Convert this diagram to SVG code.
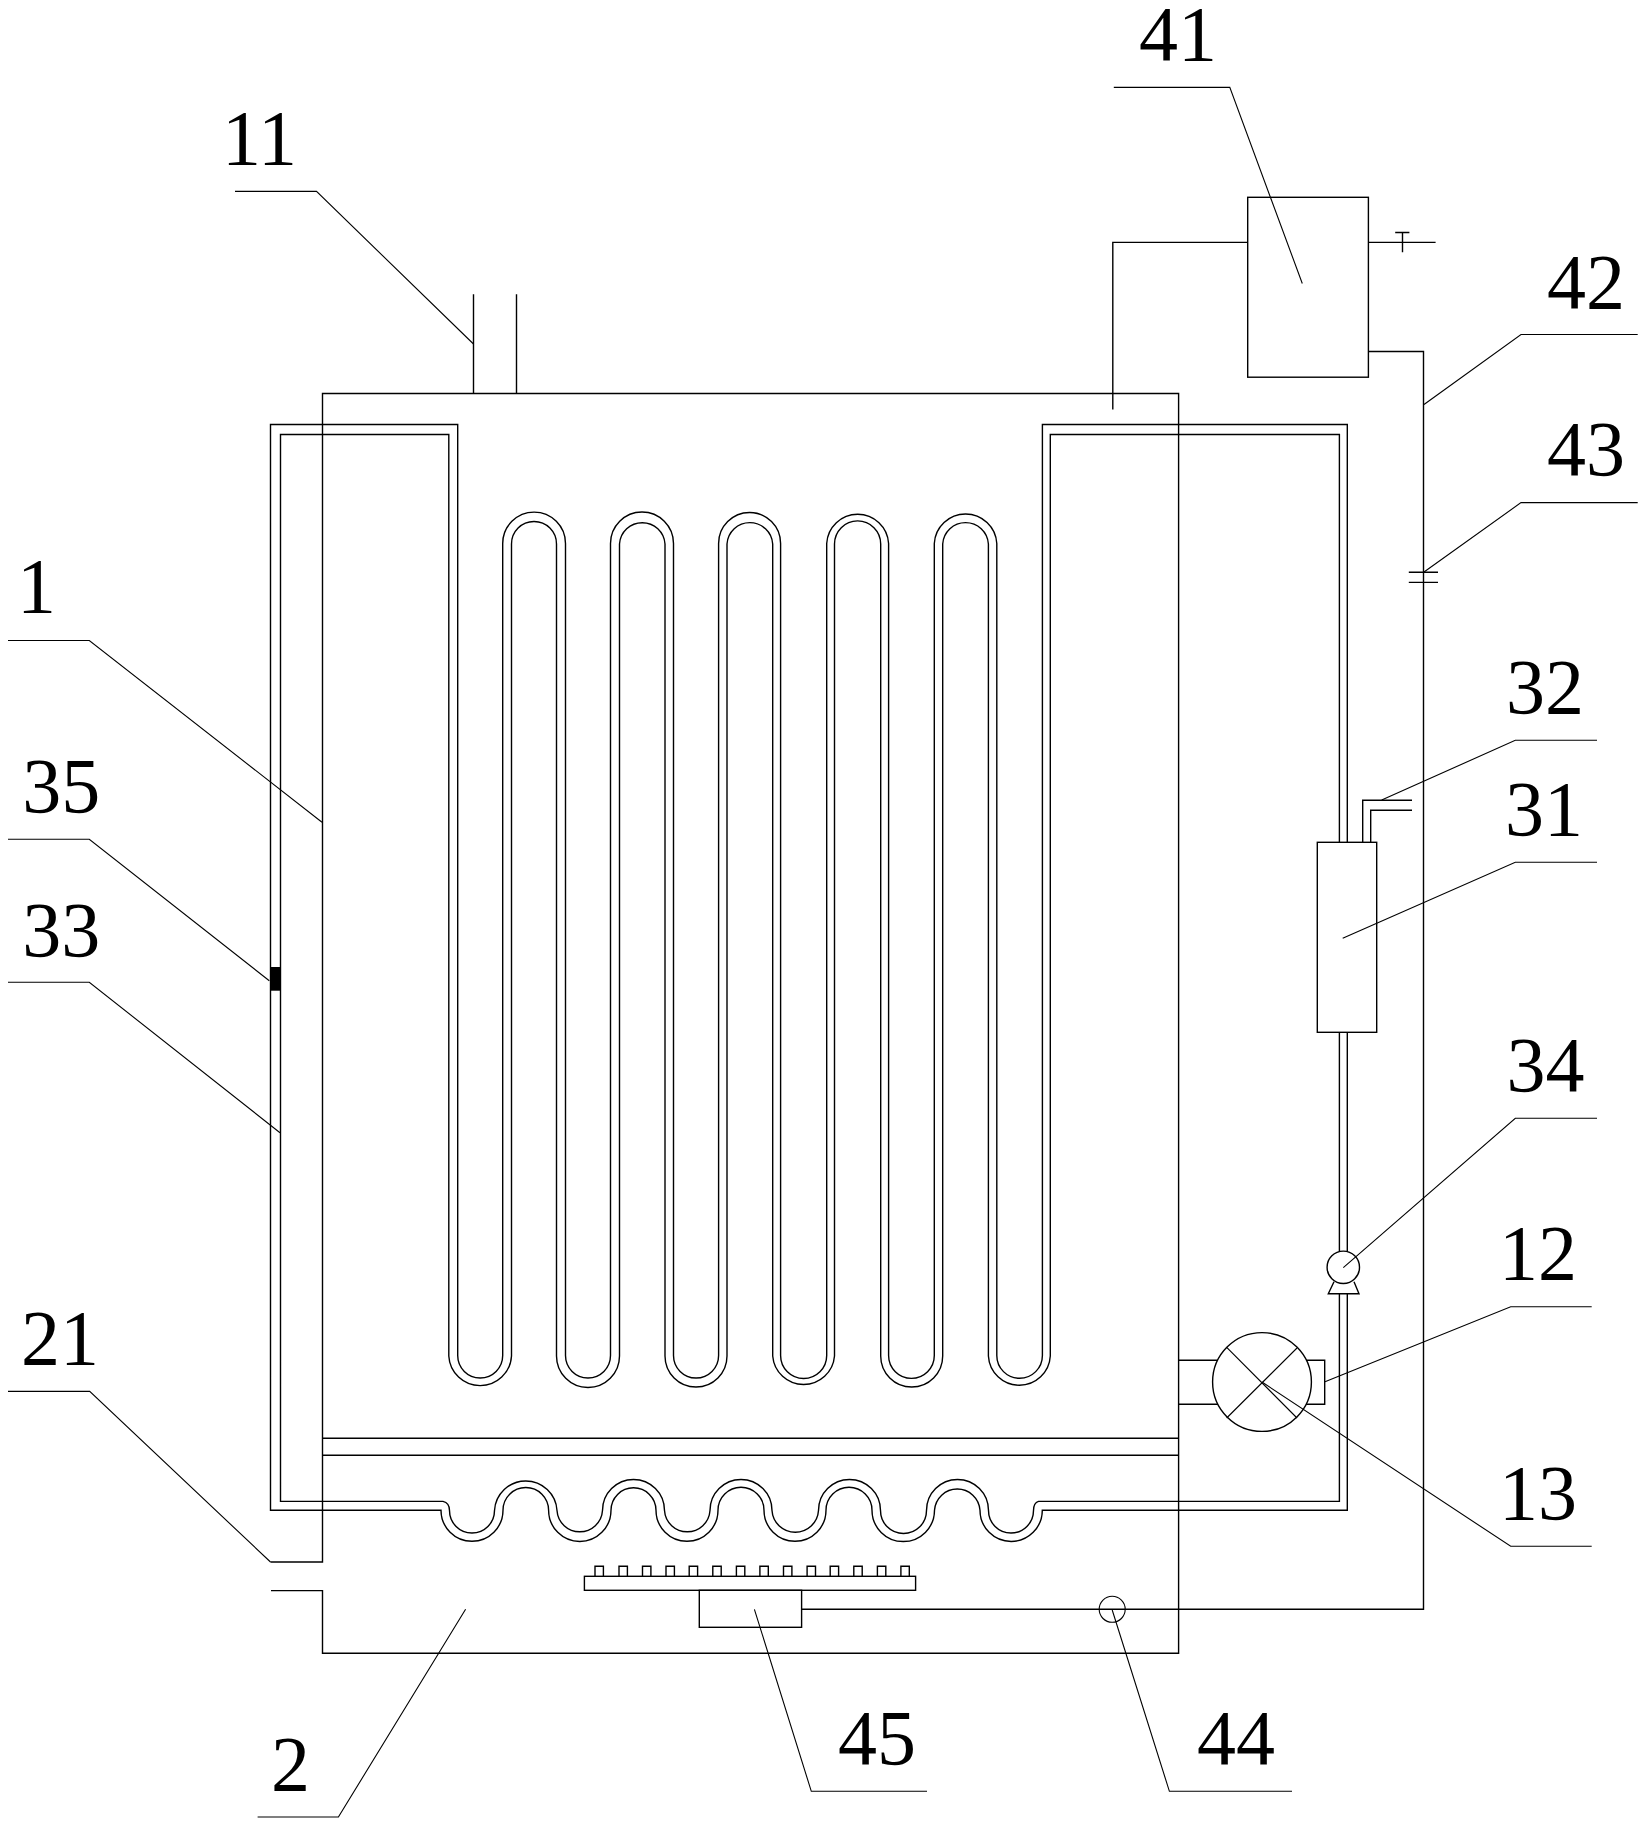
<svg xmlns="http://www.w3.org/2000/svg" width="1646" height="1825" viewBox="0 0 1646 1825">
<style>
.s{fill:none;stroke:#000;stroke-width:1.4}
.w{fill:#fff;stroke:#000;stroke-width:1.4}
.l{fill:none;stroke:#000;stroke-width:1.1}
text{font-family:"Liberation Serif","Times New Roman",serif;font-size:78px;fill:#000;text-anchor:middle}
</style>
<rect width="1646" height="1825" fill="#fff"/>
<g id="coil">
<path class="s" d="M441 1510.3H270.5V424.5H457.7V1355.5A22.5 22.5 0 0 0 502.7 1355.5V543.5A31.4 31.4 0 0 1 565.5 543.5V1355.5A22.5 22.5 0 0 0 610.5 1355.5V543.5A31.5 31.5 0 0 1 673.5 543.5V1355.5A22.5 22.5 0 0 0 718.6 1355.5V543.5A31 31 0 0 1 780.6 543.5V1355.5A23 23 0 0 0 826.7 1355.5V543.5A31 31 0 0 1 888.6 543.5V1355.5A22.8 22.8 0 0 0 934.3 1355.5V543.5A31.3 31.3 0 0 1 996.8 543.5V1355.5A22.8 22.8 0 0 0 1042.4 1355.5V424.5H1347.3V1510.3H1042.3A31 31 0 0 1 980 1510.3A22.8 22.8 0 0 0 934.5 1510.3A31 31 0 0 1 872 1510.3A23 23 0 0 0 826 1510.3A31 31 0 0 1 764 1510.3A23 23 0 0 0 718 1510.3A31 31 0 0 1 656 1510.3A22.5 22.5 0 0 0 611 1510.3A31 31 0 0 1 548.6 1510.3A22.8 22.8 0 0 0 503 1510.3A31 31 0 0 1 441 1510.3Z"/>
<path class="s" d="M443 1501.4H280.5V434.5H448.8V1356A31.4 31.4 0 0 0 511.5 1356V544A22.5 22.5 0 0 1 556.5 544V1356A31.5 31.5 0 0 0 619.5 1356V544A22.8 22.8 0 0 1 665 544V1356A31 31 0 0 0 727 1356V544A22.9 22.9 0 0 1 772.7 544V1356A31 31 0 0 0 834.5 1356V544A23.1 23.1 0 0 1 880.7 544V1356A31 31 0 0 0 942.7 1356V544A22.9 22.9 0 0 1 988.4 544V1356A31 31 0 0 0 1050.3 1356V434.5H1339.4V1501.4H1038.5Q1033.5 1503 1033.5 1510.5A22.5 22.5 0 0 1 988.5 1510.5A31 31 0 0 0 926.5 1510.5A23 23 0 0 1 880.5 1510.5A31 31 0 0 0 818.5 1510.5A23.3 23.3 0 0 1 772 1510.5A31 31 0 0 0 710 1510.5A22.8 22.8 0 0 1 664.5 1510.5A31 31 0 0 0 602.5 1510.5A22.8 22.8 0 0 1 557 1510.5A31.3 31.3 0 0 0 494.5 1510.5A22.5 22.5 0 0 1 449.5 1510.5Q449.5 1503 443 1501.4Z"/>
</g>
<g id="n1-water-tank">
<path class="s" d="M270.5 1562H322.5V393.5H1178.6V1653.3H322.5V1590.6H271"/>
<path class="s" d="M322.5 1438.2H1178.6M322.5 1455.3H1178.6"/>
</g>
<g id="n11-pipe"><path class="s" d="M473.5 394V294.2M516.5 394V294.2"/></g>
<g id="n12-fan-housing"><path class="s" d="M1178.6 1360.3H1324.7V1404.3H1178.6"/></g>
<g id="n13-fan">
<circle class="w" cx="1262" cy="1382" r="49.4"/>
<path class="l" d="M1226.7 1347.3L1297 1418M1297 1348L1226.7 1418"/>
</g>
<g id="n31-radiator">
<rect class="w" x="1317.3" y="842.3" width="59.4" height="190"/>
</g>
<g id="n32-vent"><path class="s" d="M1362.7 842.3V800.3H1412M1370.7 842.3V810.3H1412"/></g>
<g id="n34-pump">
<path class="w" d="M1334 1281.7L1328.3 1293.7H1359L1354 1281.7"/>
<circle class="w" cx="1343.3" cy="1267.3" r="16.2"/>
</g>
<g id="n35-sensor"><rect x="270.5" y="967" width="10" height="23.7" fill="#000"/></g>
<g id="n41-tank">
<rect class="s" x="1247.7" y="197.3" width="120.7" height="179.9"/>
<path class="s" d="M1247.7 242.4H1112.8V409.6M1368.4 242.4H1435.6M1395.2 232.5H1409.4M1402.5 232.5V252.3"/>
</g>
<g id="n42-gas-pipe"><path class="s" d="M1368.4 351.5H1423.5V1609.3H801.6"/></g>
<g id="n43-valve"><path class="s" d="M1408.8 572.2H1438M1408.8 582.4H1438"/></g>
<g id="n44-sensor"><circle class="l" cx="1112.2" cy="1609.3" r="13"/></g>
<g id="n45-burner">
<rect class="s" x="584.4" y="1576.3" width="331.2" height="14"/>
<rect class="s" x="699.3" y="1590.3" width="102.3" height="37"/>
<path class="s" d="M595 1576.3v-10h8.4v10M619 1576.3v-10h8.4v10M642.5 1576.3v-10h8.4v10M666 1576.3v-10h8.4v10M689.2 1576.3v-10h8.4v10M712.8 1576.3v-10h8.4v10M736.4 1576.3v-10h8.4v10M759.9 1576.3v-10h8.4v10M783.5 1576.3v-10h8.4v10M807.1 1576.3v-10h8.4v10M830.2 1576.3v-10h8.4v10M853.8 1576.3v-10h8.4v10M877.4 1576.3v-10h8.4v10M900.9 1576.3v-10h8.4v10"/>
</g>
<g id="connectors">
<path class="l" d="M235 191.4H316.5L473.5 344"/>
<path class="l" d="M1113.8 87.4H1229.8L1302.3 283.5"/>
<path class="l" d="M1637.7 334.5H1521L1424 404.5"/>
<path class="l" d="M1637.7 502.6H1521L1424 572"/>
<path class="l" d="M1597 740.3H1515.3L1381.7 800"/>
<path class="l" d="M1597 862.3H1515.3L1342.7 938.3"/>
<path class="l" d="M1597 1118.3H1515.3L1343.3 1267.7"/>
<path class="l" d="M1591.7 1306.7H1510.7L1325 1381.7"/>
<path class="l" d="M1591.7 1546.3H1510.7L1262 1382"/>
<path class="l" d="M8 640.5H89.3L322 822.3"/>
<path class="l" d="M8 839.3H89.3L269.3 980.7"/>
<path class="l" d="M8 982.3H89.3L280 1132.7"/>
<path class="l" d="M8 1391.4H89.7L270.5 1562"/>
<path class="l" d="M257.6 1817H338.4L465.6 1609.3"/>
<path class="l" d="M927 1791.3H811.3L754.4 1609.3"/>
<path class="l" d="M1292 1791.3H1169.4L1112.2 1610"/>
</g>
<g id="labels">
<text x="259.5" y="164">11</text>
<text x="1178" y="60">41</text>
<text x="1586" y="308">42</text>
<text x="1586" y="474.5">43</text>
<text x="1545" y="712.7">32</text>
<text x="1544" y="834.7">31</text>
<text x="1545.5" y="1090.7">34</text>
<text x="1538" y="1279.3">12</text>
<text x="1538" y="1519">13</text>
<text x="36.5" y="612">1</text>
<text x="61.3" y="811.7">35</text>
<text x="61.3" y="955.7">33</text>
<text x="60" y="1363.6">21</text>
<text x="290.5" y="1790">2</text>
<text x="877" y="1764">45</text>
<text x="1236" y="1764">44</text>
</g>
</svg>
